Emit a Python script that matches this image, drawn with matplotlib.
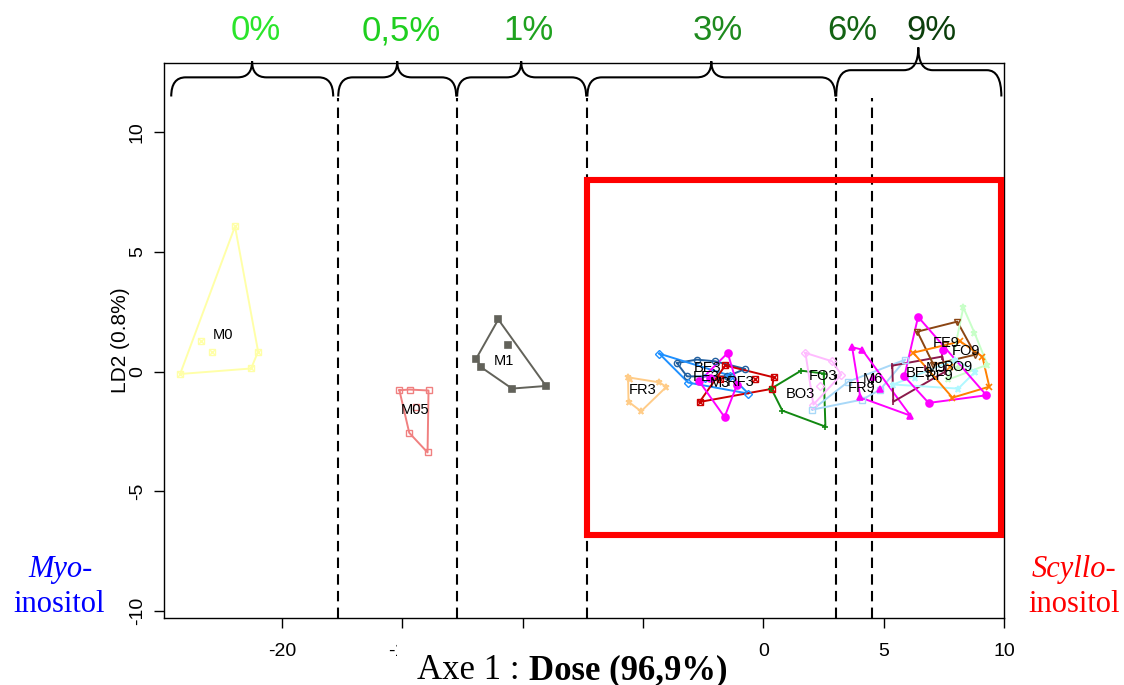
import matplotlib.pyplot as plt
from matplotlib.path import Path
from matplotlib.patches import PathPatch, Rectangle

plt.rcParams['font.family'] = ['Liberation Sans', 'DejaVu Sans']

# LDA scores (LD1 = dose axis, LD2), one pair of lists per group
M0_x = [-21.95, -20.99, -21.28, -24.23, -23.36, -22.90]
M0_y = [6.07, 0.84, 0.13, -0.10, 1.30, 0.84]
M05_x = [-15.12, -14.70, -13.91, -13.95, -14.71, -14.42]
M05_y = [-0.78, -0.75, -0.79, -3.38, -2.56, -1.49]
M1_x = [-11.01, -10.61, -11.93, -11.72, -10.44, -9.03]
M1_y = [2.18, 1.10, 0.54, 0.18, -0.71, -0.60]
FR3_x = [-5.62, -5.53, -4.32, -4.03, -5.60, -5.08]
FR3_y = [-0.24, -0.31, -0.45, -0.64, -1.26, -1.66]
BE3_x = [-3.59, -2.76, -2.00, -0.75, -3.17, -1.51]
BE3_y = [0.36, 0.50, 0.43, 0.11, -0.20, -0.20]
FE3_x = [-4.32, -3.12, -1.37, -0.62, -2.41]
FE3_y = [0.75, -0.46, -0.17, -0.92, -0.25]
M3_x = [-1.48, -2.66, -1.61, -1.09, -2.20]
M3_y = [0.78, -0.41, -1.90, -0.54, -0.26]
RF3_x = [-1.58, 0.43, 0.36, -2.65, -0.36, -1.79]
RF3_y = [0.26, -0.24, -0.72, -1.27, -0.33, -0.33]
BO3_x = [1.57, 2.51, 2.58, 0.79, 0.33]
BO3_y = [0.04, -0.08, -2.30, -1.63, -0.71]
FO3_x = [1.75, 2.86, 3.24, 2.08, 2.37]
FO3_y = [0.78, 0.43, -0.13, -1.38, -0.59]
M6_x = [3.69, 4.10, 6.11, 4.03, 4.56, 4.86]
M6_y = [1.02, 0.92, -1.84, -1.08, -0.22, -0.72]
FR9_x = [2.04, 3.53, 4.86, 5.90, 4.11]
FR9_y = [-1.59, -0.42, -0.75, 0.50, -1.17]
BE9_x = [5.36, 5.40, 7.56, 7.44, 6.73]
BE9_y = [0.25, -1.26, 0.00, 0.63, 0.17]
FE9_x = [6.40, 8.06, 8.81, 7.07, 7.56]
FE9_y = [1.67, 2.09, 0.71, 0.29, 1.13]
M9_x = [6.43, 9.27, 6.87, 5.86, 7.48]
M9_y = [2.29, -0.99, -1.31, -0.20, 0.92]
RF9_x = [5.40, 8.10, 8.81, 7.98, 6.32]
RF9_y = [-0.54, -0.71, 0.00, 0.50, -0.25]
BO9_x = [6.23, 8.19, 9.10, 9.39, 7.86, 7.77]
BO9_y = [0.79, 1.26, 0.63, -0.63, -1.09, 0.21]
FO9_x = [8.31, 8.77, 9.31, 8.10, 7.69]
FO9_y = [2.68, 1.63, 0.29, 0.13, -0.33]

groups = ['M0', 'M05', 'M1', 'FR3', 'BE3', 'FE3', 'RF3', 'M3', 'BO3', 'FO3',
          'FR9', 'M6', 'BE9', 'FE9', 'RF9', 'BO9', 'FO9', 'M9']
scores = {g: (globals()[g + '_x'], globals()[g + '_y']) for g in groups}

# dose classes along axis 1
dose_labels = ['0%', '0,5%', '1%', '3%', '6%', '9%']
dose_label_x = [-21.1, -15.05, -9.77, -1.91, 3.70, 6.98]
dose_cuts = [-17.66, -12.72, -7.31, 3.03, 4.53]
brace_spans = [(-24.6, -17.87, -21.24), (-17.66, -12.76, -15.21), (-12.72, -7.36, -10.06),
               (-7.31, 2.99, -2.16), (3.03, 9.89, 6.44)]

# colour / marker per group
style = {
    'M0': ('#FFFFA8', 'boxx', False),
    'M05': ('#F08080', 's', False),
    'M1': ('#62625A', 's', True),
    'FR3': ('#FFCC88', '*', True),
    'BE3': ('#22609F', 'o', False),
    'FE3': ('#1E90FF', 'D', False),
    'RF3': ('#CC0000', 'boxx', False),
    'M3': ('#FF00FF', 'o', True),
    'BO3': ('#118811', '+', True),
    'FO3': ('#FFBBFF', 'D', False),
    'FR9': ('#A8D8F8', 's', False),
    'M6': ('#FF00FF', '^', True),
    'BE9': ('#8B1A4A', '|', True),
    'FE9': ('#8B4513', 'v', False),
    'RF9': ('#B0F8FF', '*', True),
    'BO9': ('#FF8000', 'x', True),
    'FO9': ('#C8FFC8', '*', True),
    'M9': ('#FF00FF', 'o', True),
}
dose_colors = ['#2BE52B', '#1FCF1F', '#1FA21F', '#1E8A1E', '#136313', '#0B3F0B']


def hull(xs, ys):
    pts = sorted(set(zip(xs, ys)))

    def cross(o, a, b):
        return (a[0] - o[0]) * (b[1] - o[1]) - (a[1] - o[1]) * (b[0] - o[0])
    lower, upper = [], []
    for p in pts:
        while len(lower) >= 2 and cross(lower[-2], lower[-1], p) <= 0:
            lower.pop()
        lower.append(p)
    for p in reversed(pts):
        while len(upper) >= 2 and cross(upper[-2], upper[-1], p) <= 0:
            upper.pop()
        upper.append(p)
    h = lower[:-1] + upper[:-1]
    return h + [h[0]]


def brace(ax, x0, x1, xm, y_end, y_bar, y_tip, r=0.6):
    verts = [(x0, y_end), (x0, y_bar), (x0 + r, y_bar), (xm - r, y_bar), (xm, y_bar), (xm, y_tip),
             (xm, y_bar), (xm + r, y_bar), (x1 - r, y_bar), (x1, y_bar), (x1, y_end)]
    codes = [Path.MOVETO, Path.CURVE3, Path.CURVE3, Path.LINETO, Path.CURVE3, Path.CURVE3,
             Path.CURVE3, Path.CURVE3, Path.LINETO, Path.CURVE3, Path.CURVE3]
    ax.add_patch(PathPatch(Path(verts, codes), fill=False, lw=1.5, ec='black', clip_on=False))


fig = plt.figure(figsize=(11.24, 6.85), dpi=100)
ax = fig.add_axes([164 / 1124, 1 - 618 / 685, 840 / 1124, 555 / 685])
ax.set_xlim(-24.9, 10.0)
ax.set_ylim(-10.3, 12.9)

for g in groups:
    xs, ys = scores[g]
    col, mk, filled = style[g]
    h = hull(xs, ys)
    ax.plot([p[0] for p in h], [p[1] for p in h], color=col, lw=1.4, zorder=2)
    if mk == 'boxx':
        ax.plot(xs, ys, ls='none', marker='s', ms=5, mfc='none', mec=col, mew=1, zorder=3)
        ax.plot(xs, ys, ls='none', marker='x', ms=4, mec=col, mew=1, zorder=3)
    elif filled:
        ax.plot(xs, ys, ls='none', marker=mk, ms=5, color=col, mew=1.2, zorder=3)
    else:
        ax.plot(xs, ys, ls='none', marker=mk, ms=4.5, mfc='none', mec=col, mew=1, zorder=3)
    ax.text(sum(xs) / len(xs), sum(ys) / len(ys), g, fontsize=10.5, ha='center', va='center', zorder=4)

# dose separators and braces
ax.vlines(dose_cuts, -10.3, 11.45, colors='black', linestyles=(0, (5, 3)), lw=1.5, zorder=1)
for i, (x0, x1, xm) in enumerate(brace_spans):
    if i < 4:
        brace(ax, x0, x1, xm, 11.5, 12.3, 12.97)
    else:
        brace(ax, x0, x1, xm, 11.5, 12.6, 13.55)
for lab, lx, c in zip(dose_labels, dose_label_x, dose_colors):
    ax.text(lx, 14.25, lab, fontsize=25, color=c, ha='center', va='center', clip_on=False)

ax.add_patch(Rectangle((-7.31, -6.82), 17.2, 14.85, fill=False, ec='#FF0000', lw=4.4,
                       clip_on=False, zorder=5))

ax.set_xticks([-20, -15, -10, -5, 0, 5, 10])
ax.set_xticklabels(['-20', '-15', '-10', '-5', '0', '5', '10'])
ax.set_yticks([-10, -5, 0, 5, 10])
ax.set_yticklabels(['-10', '-5', '0', '5', '10'], rotation=90, va='center')
ax.tick_params(length=7, width=1, labelsize=14, direction='out')
ax.tick_params(axis='x', pad=11)
ax.tick_params(axis='y', pad=6)
ax.set_ylabel('LD2 (0.8%)', fontsize=15)
ax.yaxis.set_label_coords(-0.04, 0.5)
for s in ax.spines.values():
    s.set_linewidth(1)

# white box behind the axis title hides part of the tick labels
fig.patches.append(Rectangle((397 / 1124, 0), 343 / 1124, 45 / 685, transform=fig.transFigure,
                             fc='white', ec='none', zorder=2))
fig.text(520 / 1124, 1 - 679 / 685, 'Axe 1 :', family='Liberation Serif', fontsize=25,
         ha='right', va='baseline')
fig.text(529 / 1124, 1 - 679 / 685, 'Dose (96,9%)', family='Liberation Serif', fontsize=25,
         weight='bold', ha='left', va='baseline')

fig.text(60 / 1124, 1 - 569 / 685, 'Myo-', family='Liberation Serif', style='italic',
         fontsize=22, color='#0000FF', ha='center', va='center')
fig.text(59 / 1124, 1 - 605 / 685, 'inositol', family='Liberation Serif',
         fontsize=22, color='#0000FF', ha='center', va='center')
fig.text(1074 / 1124, 1 - 569 / 685, 'Scyllo-', family='Liberation Serif', style='italic',
         fontsize=22, color='#FF0000', ha='center', va='center')
fig.text(1074 / 1124, 1 - 605 / 685, 'inositol', family='Liberation Serif',
         fontsize=22, color='#FF0000', ha='center', va='center')

fig.savefig('out.png', dpi=100)
